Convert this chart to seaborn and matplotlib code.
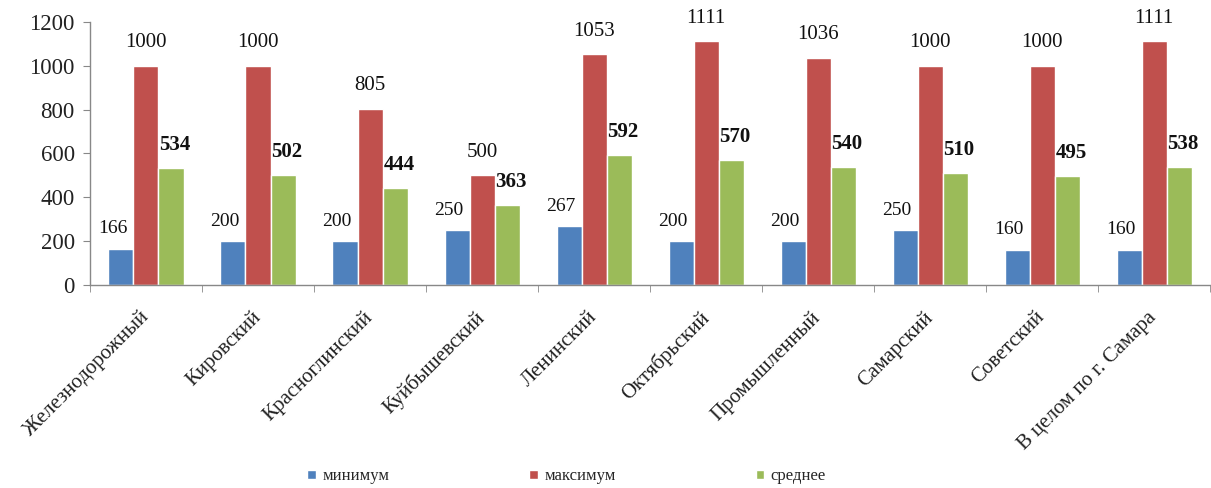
import numpy as np
import pandas as pd
import seaborn as sns
import matplotlib
matplotlib.use("Agg")
import matplotlib.pyplot as plt
import matplotlib.transforms as mtransforms
from matplotlib.patches import Patch

categories = ["Железнодорожный", "Кировский", "Красноглинский", "Куйбышевский",
              "Ленинский", "Октябрьский", "Промышленный", "Самарский",
              "Советский", "В целом по г. Самара"]
series_names = ["минимум", "максимум", "среднее"]
min_vals = [166, 200, 200, 250, 267, 200, 200, 250, 160, 160]
max_vals = [1000, 1000, 805, 500, 1053, 1111, 1036, 1000, 1000, 1111]
mean_vals = [534, 502, 444, 363, 592, 570, 540, 510, 495, 538]
colors = ["#4F81BD", "#C0504D", "#9BBB59"]

rows = []
for name, vals in zip(series_names, [min_vals, max_vals, mean_vals]):
    for c, v in zip(categories, vals):
        rows.append({"cat": c, "series": name, "value": v})
df = pd.DataFrame(rows)

sns.set_style("white")
plt.rcParams["font.family"] = ["Liberation Serif", "DejaVu Serif"]

fig = plt.figure(figsize=(12.11, 4.88), dpi=100)
ax = fig.add_axes([0.0743, 0.416, 0.925, 0.539])

sns.barplot(data=df, x="cat", y="value", hue="series", palette=colors,
            width=0.67, ax=ax, legend=False, saturation=1, errorbar=None)

ax.set_ylim(0, 1200)
ax.set_yticks(range(0, 1201, 200))
ax.set_xlim(-0.5, len(categories) - 0.5)
ax.set_xlabel("")
ax.set_ylabel("")
for s in ["top", "right"]:
    ax.spines[s].set_visible(False)
for s in ["left", "bottom"]:
    ax.spines[s].set_color("#888888")
    ax.spines[s].set_linewidth(1)

ax.tick_params(axis="y", labelsize=16.5, left=True, length=5, pad=6,
               color="#888888", labelcolor="#222222")
ax.set_xticks(np.arange(len(categories)))
ax.set_xticklabels(categories, rotation=45, ha="right", rotation_mode="anchor",
                   fontsize=15, color="#222222")
ax.tick_params(axis="x", bottom=False, pad=13)
offset = mtransforms.ScaledTranslation(-7 / 100, 0, fig.dpi_scale_trans)
for lbl in ax.get_xticklabels():
    lbl.set_transform(lbl.get_transform() + offset)
ax.set_xticks(np.arange(len(categories) + 1) - 0.5, minor=True)
ax.tick_params(axis="x", which="minor", bottom=True, length=5, color="#888888")

specs = [
    dict(dx=-8, dy=20, size=14, weight="normal"),
    dict(dx=0, dy=23, size=15, weight="normal"),
    dict(dx=4, dy=23, size=15, weight="bold"),
]
for cont, vals, sp in zip(ax.containers, [min_vals, max_vals, mean_vals], specs):
    for bar, v in zip(cont, vals):
        x = bar.get_x() + bar.get_width() / 2
        ax.annotate(str(v), (x, bar.get_height()), xytext=(sp["dx"], sp["dy"]),
                    textcoords="offset pixels", ha="center", va="center",
                    fontsize=sp["size"], fontweight=sp["weight"], color="#111111",
                    annotation_clip=False)

handles = [Patch(facecolor=c, label=n) for c, n in zip(colors, series_names)]
fig.legend(handles=handles, loc="center", bbox_to_anchor=(0.468, 0.024), ncol=3,
           frameon=False, fontsize=12, handlelength=0.5, handleheight=0.5,
           handletextpad=0.4, columnspacing=8.4)

fig.savefig("out.png", dpi=100)
